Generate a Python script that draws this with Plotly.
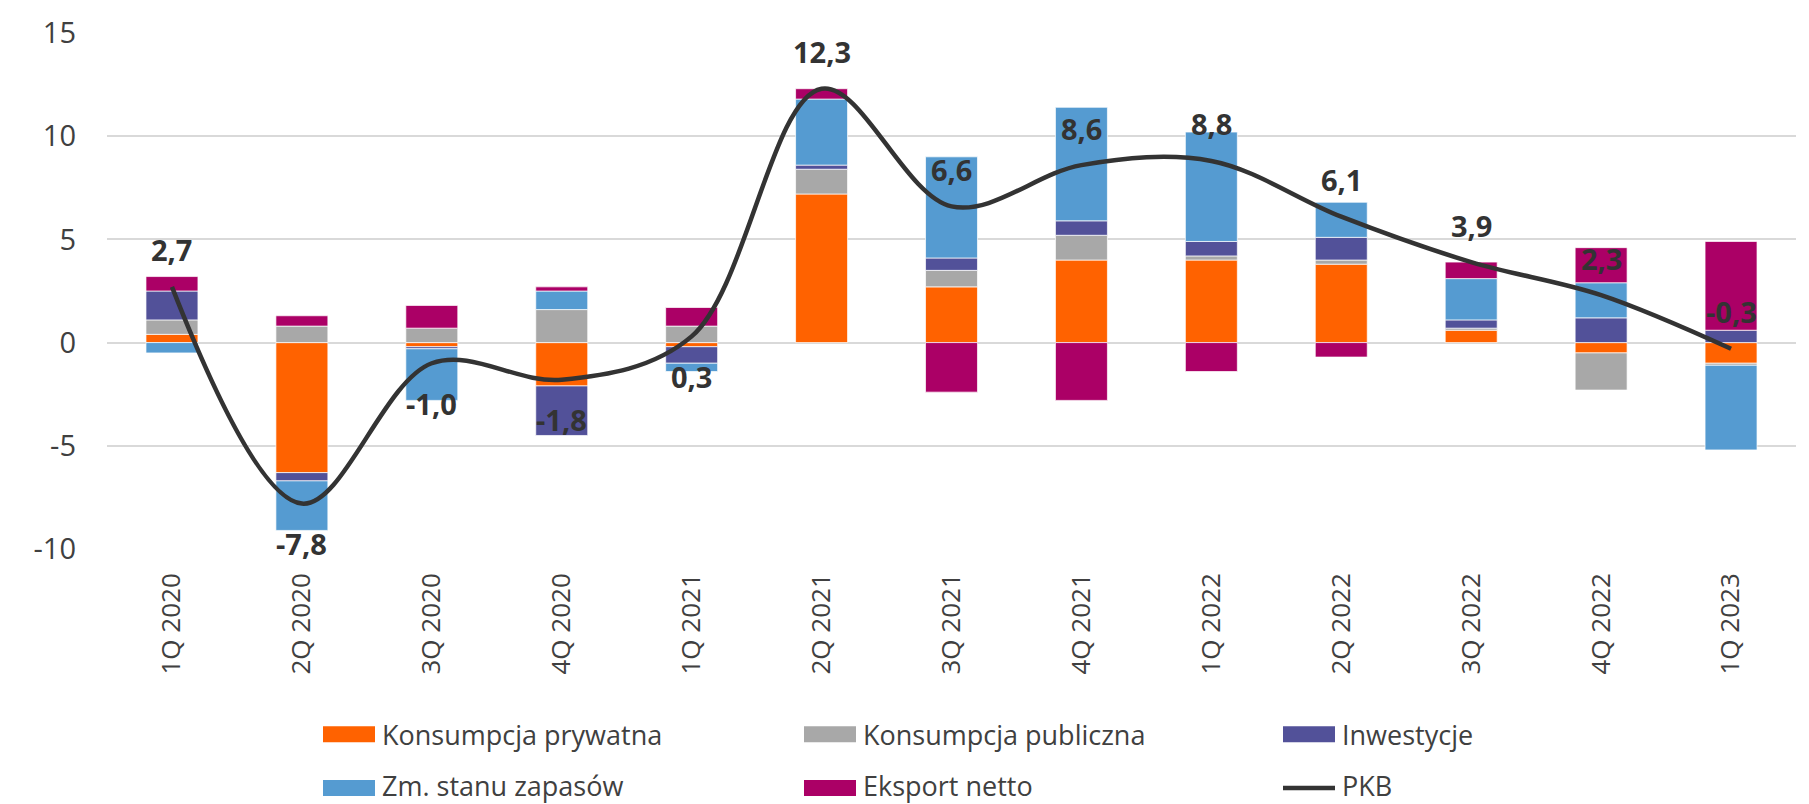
import plotly.graph_objects as go

categories = ["1Q 2020", "2Q 2020", "3Q 2020", "4Q 2020", "1Q 2021", "2Q 2021", "3Q 2021",
              "4Q 2021", "1Q 2022", "2Q 2022", "3Q 2022", "4Q 2022", "1Q 2023"]
konsumpcja_prywatna = [0.4, -6.3, -0.2, -2.1, -0.2, 7.2, 2.7, 4.0, 4.0, 3.8, 0.6, -0.5, -1.0]
konsumpcja_publiczna = [0.7, 0.8, 0.7, 1.6, 0.8, 1.2, 0.8, 1.2, 0.2, 0.2, 0.1, -1.8, -0.1]
inwestycje = [1.4, -0.4, -0.1, -2.4, -0.8, 0.2, 0.6, 0.7, 0.7, 1.1, 0.4, 1.2, 0.6]
zapasy = [-0.5, -2.4, -2.5, 0.9, -0.4, 3.2, 4.9, 5.5, 5.3, 1.7, 2.0, 1.7, -4.1]
eksport_netto = [0.7, 0.5, 1.1, 0.2, 0.9, 0.5, -2.4, -2.8, -1.4, -0.7, 0.8, 1.7, 4.3]
pkb = [2.7, -7.8, -1.0, -1.8, 0.3, 12.3, 6.6, 8.6, 8.8, 6.1, 3.9, 2.3, -0.3]
label_above = [True, False, False, False, False, True, True, True, True, True, True, True, True]

y_tickvals = [-10, -5, 0, 5, 10, 15]
y_ticktext = ["-10", "-5", "0", "5", "10", "15"]

series = [
    ("Konsumpcja prywatna", konsumpcja_prywatna, "#FF6200"),
    ("Konsumpcja publiczna", konsumpcja_publiczna, "#A8A8A8"),
    ("Inwestycje", inwestycje, "#525199"),
    ("Zm. stanu zapasów", zapasy, "#559BD1"),
    ("Eksport netto", eksport_netto, "#AB0066"),
]
LINE_COLOR = "#333333"
FONT = "Open Sans"
TEXT_COLOR = "#404040"

W, H = 1809, 804
L, R, T, B = 107, 13, 31, 255
PW, PH = W - L - R, H - T - B

fig = go.Figure()
for name, vals, col in series:
    fig.add_trace(go.Bar(
        x=categories, y=vals, name=name,
        marker=dict(color=col, line=dict(color="rgba(255,255,255,0.7)", width=1)),
        showlegend=False,
    ))

fig.add_trace(go.Scatter(
    x=categories, y=pkb, name="PKB", mode="lines",
    line=dict(color=LINE_COLOR, width=4.5, shape="spline", smoothing=1.0),
    showlegend=False,
))

annotations = []
for c, v, up in zip(categories, pkb, label_above):
    annotations.append(dict(
        x=c, y=v, xref="x", yref="y",
        text="<b>" + f"{v:.1f}".replace(".", ",") + "</b>",
        showarrow=False, yshift=37 if up else -40,
        xanchor="center", yanchor="middle",
        font=dict(family=FONT, size=29, color="#333333"),
    ))

# manual legend (pixel layout -> paper coordinates)
def px(xp):
    return (xp - L) / PW

def py(yp):
    return (T + PH - yp) / PH

legend_items = [
    ("Konsumpcja prywatna", "#FF6200", "bar", 323, 735),
    ("Konsumpcja publiczna", "#A8A8A8", "bar", 804, 735),
    ("Inwestycje", "#525199", "bar", 1283, 735),
    ("Zm. stanu zapasów", "#559BD1", "bar", 323, 789),
    ("Eksport netto", "#AB0066", "bar", 804, 789),
    ("PKB", LINE_COLOR, "line", 1283, 789),
]
shapes = []
for name, col, kind, x0, yc in legend_items:
    if kind == "bar":
        shapes.append(dict(type="rect", xref="paper", yref="paper",
                           x0=px(x0), x1=px(x0 + 52), y0=py(yc + 8), y1=py(yc - 8),
                           fillcolor=col, line=dict(width=0)))
    else:
        shapes.append(dict(type="line", xref="paper", yref="paper",
                           x0=px(x0), x1=px(x0 + 52), y0=py(yc), y1=py(yc),
                           line=dict(color=col, width=4.5)))
    annotations.append(dict(
        x=px(x0 + 57), y=py(min(yc, 786)), xref="paper", yref="paper",
        text=name, showarrow=False, xanchor="left", yanchor="middle",
        font=dict(family=FONT, size=27, color=TEXT_COLOR),
    ))

fig.update_layout(
    width=W, height=H,
    margin=dict(l=L, r=R, t=T, b=B, pad=0),
    barmode="relative", bargap=0.6,
    plot_bgcolor="white", paper_bgcolor="white",
    font=dict(family=FONT, color=TEXT_COLOR),
    annotations=annotations, shapes=shapes,
    showlegend=False,
)
fig.update_xaxes(
    type="category", range=[-0.5, 12.5], tickangle=-90,
    tickfont=dict(family=FONT, size=26, color=TEXT_COLOR),
    showgrid=False, zeroline=False, showline=False, ticks="",
    ticklabelstandoff=18,
)
fig.update_yaxes(
    range=[-10, 15], tickvals=y_tickvals, ticktext=y_ticktext,
    tickfont=dict(family=FONT, size=29, color=TEXT_COLOR),
    showgrid=True, gridcolor="#D9D9D9", gridwidth=2,
    zeroline=True, zerolinecolor="#D9D9D9", zerolinewidth=2,
    showline=False, ticks="", ticklabelstandoff=30,
)

fig.write_html(
    "out.html",
    config={"displayModeBar": False},
    post_script="document.body.style.margin='0';document.body.style.overflow='hidden';",
)
